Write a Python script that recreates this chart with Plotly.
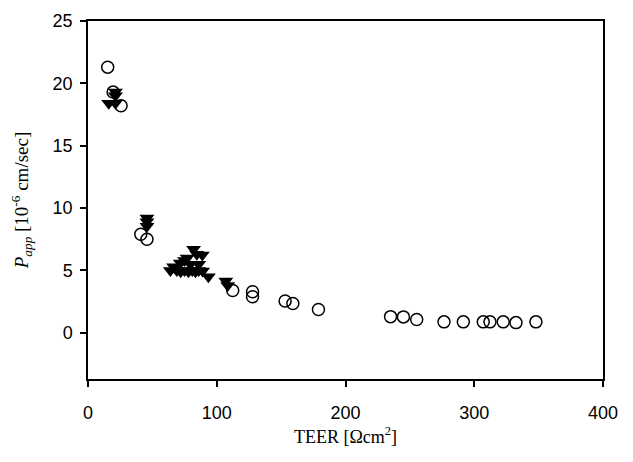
import plotly.graph_objects as go

# Open circles series
circle_teer = [15.3, 19.5, 25.7, 41.0, 45.8, 112.4, 127.8, 127.8, 153.1, 159.1, 179.0,
               235.0, 245.0, 255.3, 276.5, 291.5, 307.0, 312.2, 322.5, 332.4, 347.9]
circle_papp = [21.3, 19.3, 18.2, 7.9, 7.5, 3.4, 3.3, 2.9, 2.55, 2.35, 1.87,
               1.3, 1.28, 1.07, 0.88, 0.88, 0.88, 0.88, 0.88, 0.82, 0.88]

# Filled down-triangles series
tri_teer = [16.1, 21.3, 21.3, 21.3, 45.8, 45.8, 45.8,
            64.0, 69.0, 72.0, 75.0, 78.0, 81.0, 83.5, 86.0, 89.0, 93.5,
            66.5, 71.7, 75.0, 77.0, 79.5, 82.0, 84.5, 88.8, 86.0,
            107.0, 108.5]
tri_papp = [18.4, 18.4, 19.0, 19.3, 9.2, 8.9, 8.55,
            5.0, 5.0, 4.9, 5.0, 4.9, 5.0, 4.9, 5.0, 4.95, 4.5,
            5.3, 5.6, 5.8, 6.0, 5.5, 6.7, 6.3, 6.25, 5.5,
            4.15, 3.8]

x_ticks = [0, 100, 200, 300, 400]
y_ticks = [0, 5, 10, 15, 20, 25]

fig = go.Figure()
fig.add_trace(go.Scatter(
    x=circle_teer, y=circle_papp, mode="markers",
    marker=dict(symbol="circle-open", size=12, color="black", line=dict(width=1.5)),
    showlegend=False))
fig.add_trace(go.Scatter(
    x=tri_teer, y=tri_papp, mode="markers",
    marker=dict(symbol="triangle-down", size=13, color="black", line=dict(width=0)),
    showlegend=False))

axis_common = dict(
    showgrid=False, zeroline=False, showline=True, linecolor="black", linewidth=1.5,
    mirror=True, ticks="outside", ticklen=6, tickwidth=1.5, tickcolor="black",
    automargin=False,
    tickfont=dict(family="Liberation Sans, Arial, sans-serif", size=18, color="black"),
)

# page body keeps its default 8 px margin, so the figure is sized to fit inside it
fig.update_layout(
    width=617, height=446,
    margin=dict(l=80, r=22, t=13, b=75),
    paper_bgcolor="white", plot_bgcolor="white",
    xaxis=dict(range=[0, 400], tickvals=x_ticks, ticklabelstandoff=11,
               title=dict(text="TEER [Ωcm<sup>2</sup>]", standoff=8,
                          font=dict(family="Liberation Serif, Times New Roman, serif", size=18, color="black")),
               **axis_common),
    yaxis=dict(range=[-3.7, 25], tickvals=y_ticks, ticklabelstandoff=4,
               title=dict(text="<i>P</i><sub><i>app</i></sub> [10<sup>-6</sup> cm/sec]", standoff=22,
                          font=dict(family="Liberation Serif, Times New Roman, serif", size=19, color="black")),
               **axis_common),
)

fig.write_html("out.html")
